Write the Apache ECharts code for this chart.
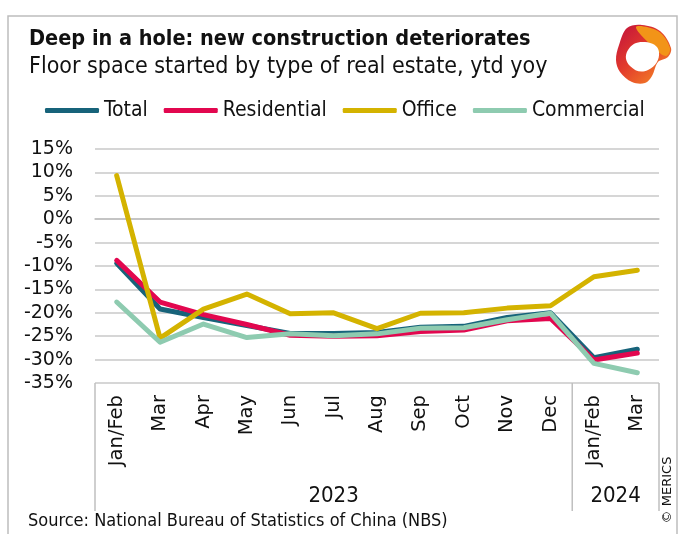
<!DOCTYPE html>
<html><head><meta charset="utf-8">
<script src="https://cdn.jsdelivr.net/npm/echarts@6/dist/echarts.min.js"></script>
<style>html,body{margin:0;padding:0;background:#fff}#c{width:678px;height:534px}</style>
</head><body><div id="c"></div>
<script>
var categories = ['Jan/Feb','Mar','Apr','May','Jun','Jul','Aug','Sep','Oct','Nov','Dec','Jan/Feb','Mar'];
var yearLabels = ['2023','2024'];
var yearSpans = [11, 2];
var total =       [-9.4, -19.2, -21.0, -22.7, -24.4, -24.4, -24.2, -23.1, -22.9, -21.0, -20.0, -29.6, -27.8];
var residential = [-8.8, -17.7, -20.4, -22.5, -24.8, -25.0, -24.9, -24.0, -23.7, -21.7, -21.2, -30.1, -28.6];
var office =      [9.3, -25.4, -19.2, -16.0, -20.2, -20.0, -23.4, -20.1, -20.0, -19.0, -18.5, -12.3, -10.9];
var commercial =  [-17.7, -26.3, -22.4, -25.3, -24.5, -24.9, -24.5, -23.3, -23.2, -21.5, -20.1, -30.8, -32.8];
var seriesNames = ['Total','Residential','Office','Commercial'];
var colors = ['#17637a','#e2074f','#d4b300','#8ecbb0'];

var cond = '"DejaVu Sans Condensed", "DejaVu Sans", sans-serif';
var chart = echarts.init(document.getElementById('c'), null, {renderer:'canvas'});
var data = [total, residential, office, commercial];
var series = seriesNames.map(function(n,i){
  return {name:n, type:'line', data:data[i], symbol:'none', smooth:false,
    lineStyle:{width:5, color:colors[i], cap:'round', join:'round'}, itemStyle:{color:colors[i]}};
});
chart.setOption({
  animation:false,
  title:[
    {text:'Deep in a hole: new construction deteriorates', left:24, top:23,
     textStyle:{fontFamily:cond, fontWeight:'bold', fontSize:21.5, color:'#111'}},
    {text:'Floor space started by type of real estate, ytd yoy', left:24, top:51,
     textStyle:{fontFamily:cond, fontWeight:'normal', fontSize:23, color:'#111'}}
  ],
  legend:{data:seriesNames, left:40, top:95, icon:'roundRect', itemWidth:54, itemHeight:5, itemGap:16,
    textStyle:{fontFamily:cond, fontSize:21, color:'#111'}},
  grid:{left:95, right:19, top:149, bottom:151},
  xAxis:{type:'category', data:categories, boundaryGap:true,
    axisLine:{lineStyle:{color:'#bfbfbf', width:1.5}}, axisTick:{show:false},
    axisLabel:{rotate:90, interval:0, margin:12, fontFamily:'"DejaVu Sans", sans-serif', fontSize:19.5, color:'#111'}},
  yAxis:{type:'value', min:-35, max:15, interval:5,
    axisLine:{show:false}, axisTick:{show:false},
    axisLabel:{formatter:'{value}%', margin:22, fontFamily:'"DejaVu Sans", sans-serif', fontSize:19, color:'#111'},
    splitLine:{lineStyle:{color:'#c8c8c8', width:1.5}}},
  series:series
});

// axis group dividers and year labels, placed with the chart's own x scale
var half = (chart.convertToPixel({xAxisIndex:0}, 1) - chart.convertToPixel({xAxisIndex:0}, 0)) / 2;
var yTop = chart.convertToPixel({yAxisIndex:0}, -35);
var yBot = 511;
var g = [];
g.push({type:'rect', shape:{x:8, y:16, width:669, height:530}, style:{fill:'none', stroke:'#bdbdbd', lineWidth:1.5}, z:0});
var start = 0;
var bounds = [chart.convertToPixel({xAxisIndex:0}, 0) - half];
yearSpans.forEach(function(s, k){
  var end = start + s - 1;
  var xr = chart.convertToPixel({xAxisIndex:0}, end) + half;
  bounds.push(xr);
  var xl = chart.convertToPixel({xAxisIndex:0}, start) - half;
  g.push({type:'text', x:(xl+xr)/2, y:496, style:{text:yearLabels[k], fontFamily:cond, fontSize:22, fill:'#111', align:'center', verticalAlign:'middle'}});
  start += s;
});
bounds.forEach(function(x){
  g.push({type:'line', shape:{x1:x, y1:yTop, x2:x, y2:yBot}, style:{stroke:'#bfbfbf', lineWidth:1.5}});
});
g.push({type:'text', x:28, y:521, style:{text:'Source: National Bureau of Statistics of China (NBS)', fontFamily:cond, fontSize:18, fill:'#111', verticalAlign:'middle'}});
g.push({type:'text', x:668, y:490, rotation:Math.PI/2, style:{text:'© MERICS', fontFamily:'"DejaVu Sans", sans-serif', fontSize:13, fill:'#111', align:'center', verticalAlign:'middle'}});
// logo
g.push({type:'polygon', shape:{points:[[627,28],[642,25],[660,31],[671,48],[668,57],[658,62],[652,76],[645,83],[632,82],[620,72],[616,60],[619,45]], smooth:0.35},
  style:{fill:new echarts.graphic.LinearGradient(0,0,1,1,[{offset:0,color:'#c0103c'},{offset:0.45,color:'#e23a2c'},{offset:0.75,color:'#ee6a28'},{offset:1,color:'#f39a1e'}])}});
g.push({type:'polygon', shape:{points:[[636,27],[658,31],[670,48],[666,56],[654,48]], smooth:0.35},
  style:{fill:'#f29418'}});
g.push({type:'polygon', shape:{points:[[628,50],[645,42],[659,52],[648,70],[630,66]], smooth:0.5}, style:{fill:'#fff'}});
chart.setOption({graphic:{elements:g}});
</script></body></html>
